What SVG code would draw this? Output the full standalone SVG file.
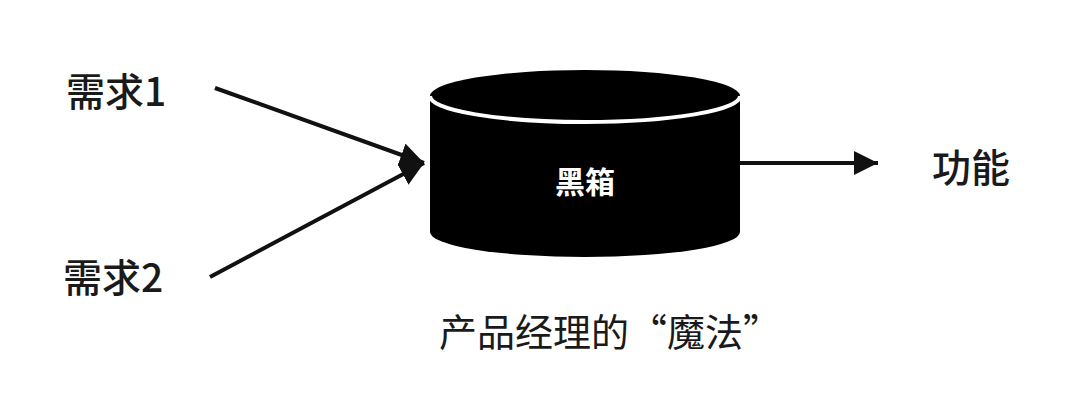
<svg xmlns="http://www.w3.org/2000/svg" width="1080" height="408" viewBox="0 0 1080 408">
<defs>
<style>
.lbl{font-family:"Noto Sans CJK SC","Noto Sans",sans-serif;fill:#1a1a1a}
.b{font-weight:500}
.conn{stroke:#111;stroke-width:4;fill:none}
</style>
<marker id="ah" viewBox="0 0 10 10" refX="10" refY="5" markerWidth="6" markerHeight="6" markerUnits="strokeWidth" orient="auto">
<path d="M0,0 L10,5 L0,10 Z" fill="#111"/>
</marker>
</defs>
<rect width="1080" height="408" fill="#ffffff"/>
<g id="connectors">
<line class="conn" x1="215" y1="88" x2="424" y2="163" marker-end="url(#ah)"/>
<line class="conn" x1="210" y1="277" x2="424" y2="163" marker-end="url(#ah)"/>
<line class="conn" x1="740" y1="163" x2="878" y2="163" marker-end="url(#ah)"/>
</g>
<g id="need1"><text class="lbl b" x="66" y="106" font-size="39">需求1</text></g>
<g id="need2"><text class="lbl b" x="63" y="292" font-size="39">需求2</text></g>
<g id="blackbox">
<path d="M430,96 L430,232 A155,25 0 0 0 740,232 L740,96 Z" fill="#000"/>
<ellipse cx="585" cy="96" rx="155" ry="26" fill="#000"/>
<path d="M430,96 A155,26 0 0 0 740,96" fill="none" stroke="#fff" stroke-width="4"/>
<text x="585" y="193" font-size="30" font-weight="bold" text-anchor="middle" font-family="Noto Sans CJK SC, sans-serif" fill="#fff">黑箱</text>
</g>
<g id="function"><text class="lbl b" x="932" y="182" font-size="39">功能</text></g>
<g id="caption"><text class="lbl" x="439" y="346" font-size="38">产品经理的“魔法”</text></g>
</svg>
